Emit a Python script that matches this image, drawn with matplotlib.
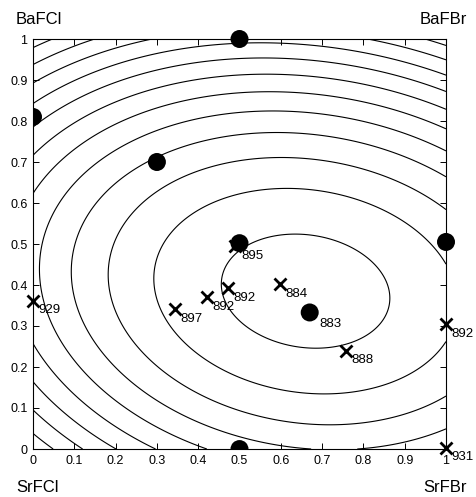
import numpy as np
import matplotlib.pyplot as plt
from matplotlib.patches import Ellipse, Wedge

plt.rcParams['font.family'] = ['Liberation Sans', 'DejaVu Sans']

# quadratic fit surface (normalised): a*dx^2 + b*dy^2 + c*dx*dy
x0, y0 = 0.66, 0.385
a, b, c = 1.0, 2.15, 0.36
levels = np.arange(0.041, 1.06, 0.092)

# measured compositions (filled circles)
dot_x = [0.5, 0.3, 0.5, 1.0, 0.67]
dot_y = [1.0, 0.70, 0.502, 0.505, 0.333]
# dots sitting on the frame, only the inner half is drawn
half_x = [0.0, 0.5]
half_y = [0.81, 0.0]
half_theta = [(-90, 90), (0, 180)]

# crosses with wavelengths
cross_x = [0.0, 0.344, 0.422, 0.471, 0.49, 0.598, 0.757, 1.0, 1.0]
cross_y = [0.362, 0.341, 0.371, 0.392, 0.495, 0.402, 0.240, 0.304, 0.003]
cross_lab = ['929', '897', '892', '892', '895', '884', '888', '892', '931']
dot_lab_x, dot_lab_y, dot_lab = 0.67, 0.333, '883'

fig = plt.figure(figsize=(4.77, 4.97), dpi=100)
ax = fig.add_axes([33/477, 48/497, 413/477, 410/497])

xx, yy = np.meshgrid(np.linspace(0, 1, 400), np.linspace(0, 1, 400))
dx, dy = xx - x0, yy - y0
f = a*dx**2 + b*dy**2 + c*dx*dy
ax.contour(xx, yy, f, levels=levels, colors='black', linewidths=0.8)

# dot diameter ~18 px -> data units
dw, dh = 18/413, 18/410
for xi, yi in zip(dot_x, dot_y):
    ax.add_patch(Ellipse((xi, yi), dw, dh, facecolor='black', edgecolor='none',
                         zorder=4, clip_on=False))
for xi, yi, (t1, t2) in zip(half_x, half_y, half_theta):
    ax.add_patch(Wedge((xi, yi), dw/2, t1, t2, facecolor='black', edgecolor='none',
                       zorder=4, clip_on=False))

ax.plot(cross_x, cross_y, 'x', color='black', ms=8, mew=2, ls='none', clip_on=False, zorder=3)
for xi, yi, t in zip(cross_x, cross_y, cross_lab):
    ax.annotate(t, (xi, yi), xytext=(4, -7), textcoords='offset points',
                ha='left', va='center', fontsize=9.5, annotation_clip=False)
ax.annotate(dot_lab, (dot_lab_x, dot_lab_y), xytext=(7, -8), textcoords='offset points',
            ha='left', va='center', fontsize=9.5)

ticks = np.round(np.arange(0, 1.01, 0.1), 1)
labels = ['0'] + ['%.1f' % t for t in ticks[1:-1]] + ['1']
ax.set_xlim(0, 1)
ax.set_ylim(0, 1)
ax.set_xticks(ticks)
ax.set_yticks(ticks)
ax.set_xticklabels(labels)
ax.set_yticklabels(labels)
ax.tick_params(direction='in', top=True, right=True, length=4, width=0.7, labelsize=9, pad=4)
for s in ax.spines.values():
    s.set_linewidth(0.8)

fig.text(16/477, 1 - 19/497, 'BaFCl', ha='left', va='center', fontsize=12)
fig.text(467/477, 1 - 19/497, 'BaFBr', ha='right', va='center', fontsize=12)
fig.text(16/477, 1 - 488/497, 'SrFCl', ha='left', va='center', fontsize=12)
fig.text(467/477, 1 - 488/497, 'SrFBr', ha='right', va='center', fontsize=12)

fig.savefig('out.png', dpi=100)
